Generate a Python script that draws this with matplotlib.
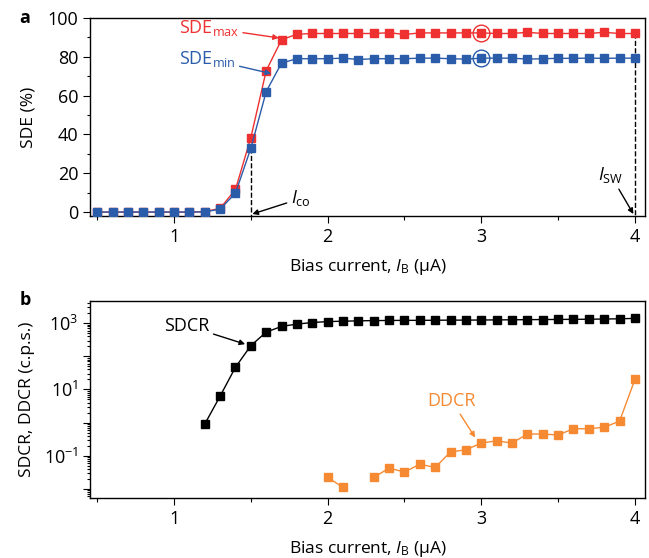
import numpy as np
import matplotlib
matplotlib.use("Agg")
import matplotlib.pyplot as plt
from matplotlib.ticker import LogLocator, FixedLocator, NullFormatter

plt.rcParams['font.family'] = ['Open Sans', 'DejaVu Sans']
plt.rcParams['mathtext.fontset'] = 'custom'
plt.rcParams['mathtext.rm'] = 'Open Sans'
plt.rcParams['mathtext.it'] = 'Open Sans:italic'

# bias current (uA)
bias = np.round(np.arange(0.5, 4.01, 0.1), 2)

sde_max = [0, 0, 0, 0, 0, 0, 0, 0.2, 1.9, 11.7, 38.4, 72.9, 88.8, 91.6, 92.0,
           92.0, 92.0, 92.0, 92.0, 92.4, 91.5, 92.3, 92.3, 92.3, 92.3, 92.3,
           92.0, 92.0, 92.6, 92.0, 92.0, 92.0, 92.0, 92.6, 92.0, 92.0]
sde_min = [0, 0, 0, 0, 0, 0, 0, 0.1, 1.5, 9.8, 32.9, 62.1, 76.8, 79.0, 79.0,
           79.0, 79.3, 78.6, 79.0, 79.0, 79.0, 79.3, 79.3, 79.0, 78.8, 79.3,
           79.3, 79.3, 78.8, 79.0, 79.2, 79.2, 79.3, 79.2, 79.3, 79.3]

sdcr_bias = np.round(np.arange(1.2, 4.01, 0.1), 2)
sdcr = [0.9, 6.3, 47, 210, 540, 800, 940, 1050, 1120, 1150, 1180, 1200, 1210,
        1220, 1220, 1230, 1240, 1240, 1250, 1260, 1270, 1280, 1290, 1300,
        1310, 1320, 1340, 1360, 1400]

ddcr_bias = np.round(np.arange(2.0, 4.01, 0.1), 2)
ddcr = [0.022, 0.011, np.nan, 0.022, 0.042, 0.032, 0.055, 0.044, 0.13, 0.15,
        0.24, 0.28, 0.24, 0.45, 0.45, 0.42, 0.65, 0.65, 0.72, 1.1, 20]

red = '#ee3030'
blue = '#2a5caa'
orange = '#f58a33'

fs_tick = 13
fs_label = 12.5
fs_note = 13

fig = plt.figure(figsize=(6.49, 5.58), dpi=100)
ax1 = fig.add_axes([0.1387, 0.613, 0.855, 0.3548])
ax2 = fig.add_axes([0.1387, 0.1075, 0.855, 0.3536])

ms = 5.5
arrow = dict(arrowstyle='-|>', lw=1.0, mutation_scale=8, shrinkA=1, shrinkB=2)

# panel a
ax1.plot(bias, sde_max, '-s', color=red, ms=ms, lw=1.0, mec=red, zorder=3)
ax1.plot(bias, sde_min, '-s', color=blue, ms=ms, lw=1.0, mec=blue, zorder=3)
i3 = int(np.argmin(np.abs(bias - 3.0)))
ax1.plot(3.0, sde_max[i3], 'o', ms=12, mfc='none', mec=red, mew=1.0, zorder=4)
ax1.plot(3.0, sde_min[i3], 'o', ms=12, mfc='none', mec=blue, mew=1.0, zorder=4)
i15 = int(np.argmin(np.abs(bias - 1.5)))
ax1.plot([1.5, 1.5], [sde_min[i15], -2], '--', color='k', lw=1.0, zorder=2)
ax1.plot([4.0, 4.0], [sde_max[-1], -2], '--', color='k', lw=1.0, zorder=2)

ax1.set_xlim(0.453, 4.065)
ax1.set_ylim(-2, 100)
ax1.set_yticks([0, 20, 40, 60, 80, 100])
ax1.yaxis.set_minor_locator(FixedLocator([10, 30, 50, 70, 90]))
ax1.set_ylabel('SDE (%)', fontsize=fs_label, labelpad=8)
ax1.set_xlabel('Bias current, $\\mathit{I}_{\\mathrm{B}}$ (μA)', fontsize=fs_label,
               labelpad=8)

ax1.annotate('SDE$_{\\mathrm{max}}$', xy=(1.7, 89.5), xytext=(1.03, 95),
             color=red, fontsize=fs_note, va='center',
             arrowprops=dict(arrow, color=red))
ax1.annotate('SDE$_{\\mathrm{min}}$', xy=(1.65, 71), xytext=(1.03, 79),
             color=blue, fontsize=fs_note, va='center',
             arrowprops=dict(arrow, color=blue))
ax1.annotate('$\\mathit{I}_{\\mathrm{co}}$', xy=(1.51, -1), xytext=(1.76, 7),
             color='k', fontsize=fs_note, va='center',
             arrowprops=dict(arrow, color='k', shrinkB=0))
ax1.annotate('$\\mathit{I}_{\\mathrm{SW}}$', xy=(3.99, -1), xytext=(3.76, 19),
             color='k', fontsize=fs_note, va='center',
             arrowprops=dict(arrow, color='k', shrinkB=0))

# panel b
ax2.plot(sdcr_bias, sdcr, '-s', color='k', ms=ms, lw=1.0, zorder=3)
ax2.plot(ddcr_bias, ddcr, '-s', color=orange, ms=ms, lw=1.0, mec=orange, zorder=3)
ax2.set_yscale('log')
ax2.set_xlim(0.453, 4.065)
ax2.set_ylim(10 ** -2.28, 10 ** 3.68)
ax2.yaxis.set_major_locator(FixedLocator([1e-2, 1e-1, 1, 10, 100, 1e3]))
ax2.yaxis.set_minor_locator(LogLocator(base=10, subs=np.arange(2, 10), numticks=20))
ax2.yaxis.set_minor_formatter(NullFormatter())
ax2.set_yticklabels(['', '$10^{-1}$', '', '$10^{1}$', '', '$10^{3}$'])
ax2.set_ylabel('SDCR, DDCR (c.p.s.)', fontsize=fs_label, labelpad=6)
ax2.set_xlabel('Bias current, $\\mathit{I}_{\\mathrm{B}}$ (μA)', fontsize=fs_label,
               labelpad=8)

ax2.annotate('SDCR', xy=(1.48, 220), xytext=(1.23, 850),
             color='k', fontsize=fs_note, va='center', ha='right',
             arrowprops=dict(arrow, color='k'))
ax2.annotate('DDCR', xy=(2.97, 0.3), xytext=(2.65, 4.4),
             color=orange, fontsize=fs_note, va='center',
             arrowprops=dict(arrow, color=orange))

for ax in (ax1, ax2):
    ax.set_xticks([1, 2, 3, 4])
    ax.xaxis.set_minor_locator(FixedLocator([0.5, 1.5, 2.5, 3.5]))
    ax.tick_params(which='major', length=5, width=0.8, labelsize=fs_tick, direction='out')
    ax.tick_params(which='minor', length=3, width=0.8, direction='out')
    ax.tick_params(axis='y', which='minor', length=2.5)
    for s in ax.spines.values():
        s.set_linewidth(1.0)

fig.text(0.03, 0.967, 'a', fontsize=13, fontweight='bold', va='center')
fig.text(0.03, 0.462, 'b', fontsize=13, fontweight='bold', va='center')

fig.savefig('out.png', dpi=100)
